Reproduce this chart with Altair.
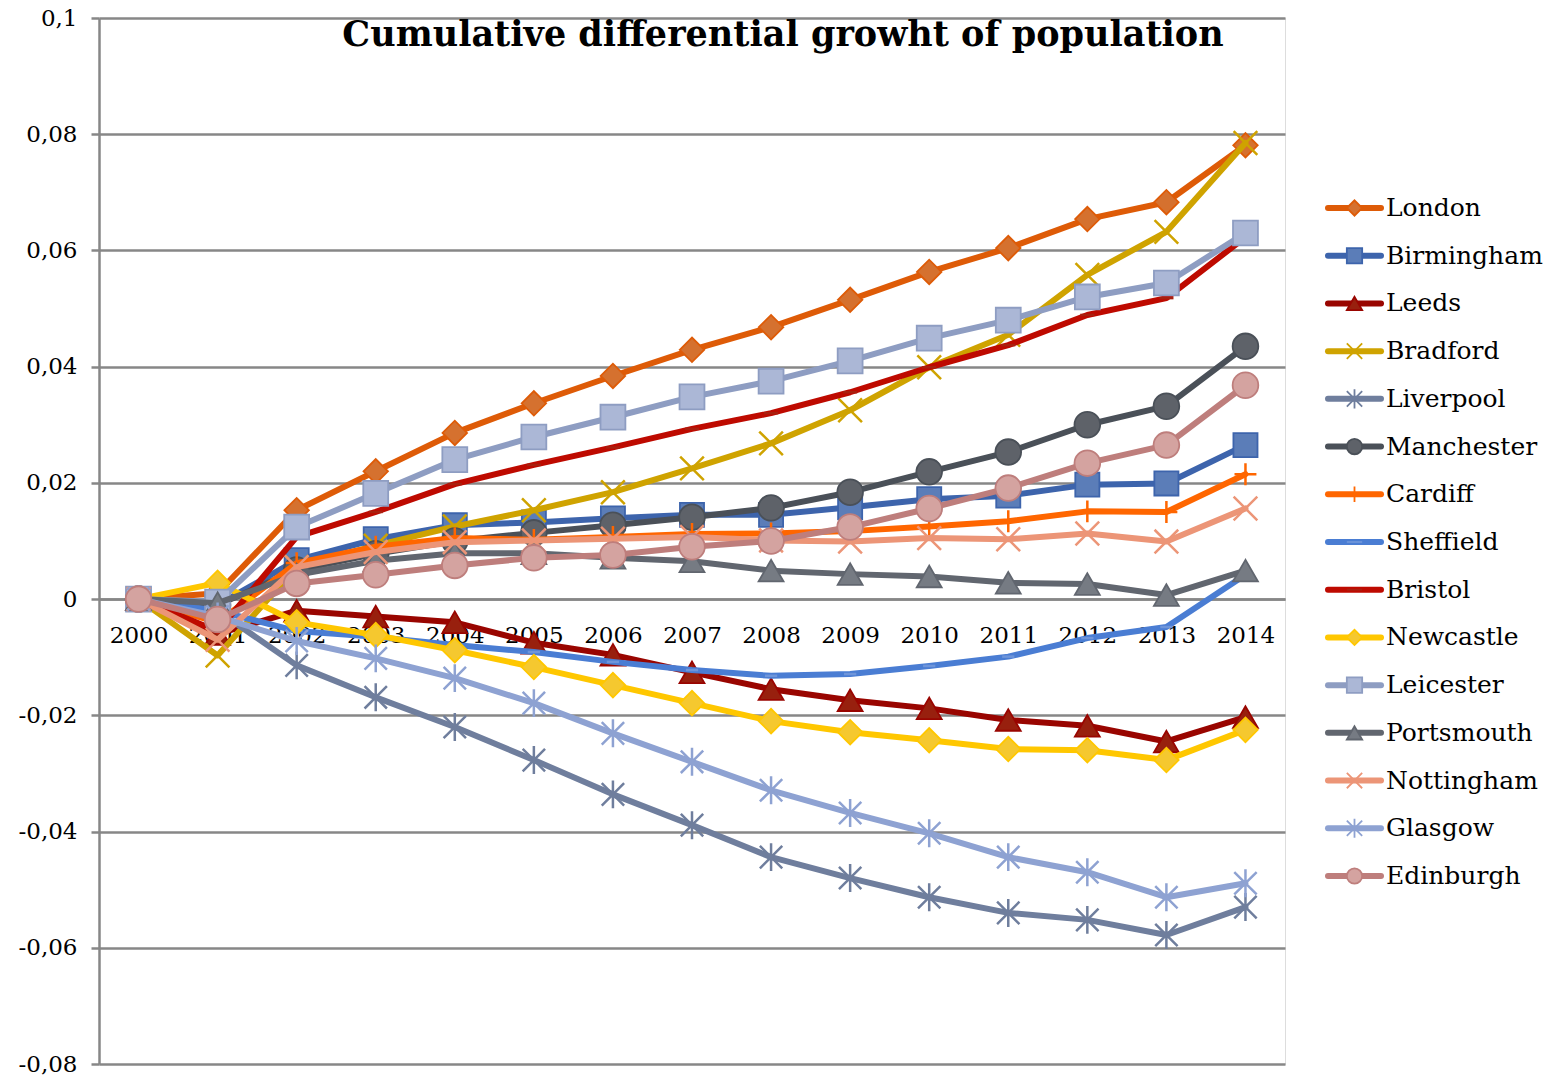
import altair as alt
import pandas as pd

# Cumulative differential growth of population by city, 2000-2014
years = list(range(2000, 2015))

london     = [0, 0.0010, 0.0153, 0.0220, 0.0286, 0.0337, 0.0384, 0.0429, 0.0468, 0.0515, 0.0563, 0.0604, 0.0654, 0.0683, 0.0781]
birmingham = [0, -0.0010, 0.0067, 0.0103, 0.0127, 0.0132, 0.0139, 0.0145, 0.0145, 0.0158, 0.0172, 0.0178, 0.0197, 0.0199, 0.0265]
leeds      = [0, -0.0060, -0.0020, -0.0030, -0.0040, -0.0075, -0.0096, -0.0126, -0.0155, -0.0174, -0.0188, -0.0208, -0.0218, -0.0245, -0.0203]
bradford   = [0, -0.0097, 0.0055, 0.0092, 0.0125, 0.0153, 0.0184, 0.0225, 0.0268, 0.0325, 0.0399, 0.0455, 0.0558, 0.0632, 0.0785]
liverpool  = [0, -0.0020, -0.0114, -0.0169, -0.0220, -0.0277, -0.0336, -0.0389, -0.0444, -0.0480, -0.0513, -0.0540, -0.0552, -0.0578, -0.0530]
manchester = [0, -0.0010, 0.0050, 0.0078, 0.0100, 0.0114, 0.0127, 0.0141, 0.0157, 0.0184, 0.0219, 0.0253, 0.0300, 0.0332, 0.0435]
cardiff    = [0, -0.0040, 0.0062, 0.0090, 0.0105, 0.0102, 0.0107, 0.0112, 0.0113, 0.0117, 0.0125, 0.0134, 0.0151, 0.0150, 0.0215]
sheffield  = [0, -0.0020, -0.0055, -0.0065, -0.0079, -0.0091, -0.0108, -0.0122, -0.0132, -0.0129, -0.0115, -0.0099, -0.0067, -0.0048, 0.0042]
bristol    = [0, -0.0055, 0.0107, 0.0150, 0.0198, 0.0231, 0.0261, 0.0293, 0.0320, 0.0356, 0.0399, 0.0437, 0.0489, 0.0518, 0.0623]
newcastle  = [0, 0.0028, -0.0040, -0.0062, -0.0088, -0.0117, -0.0148, -0.0179, -0.0210, -0.0229, -0.0243, -0.0258, -0.0260, -0.0277, -0.0225]
leicester  = [0, -0.0005, 0.0124, 0.0182, 0.0240, 0.0279, 0.0313, 0.0348, 0.0375, 0.0410, 0.0449, 0.0480, 0.0520, 0.0544, 0.0630]
portsmouth = [0, -0.0007, 0.0042, 0.0066, 0.0079, 0.0079, 0.0071, 0.0065, 0.0049, 0.0043, 0.0039, 0.0028, 0.0026, 0.0007, 0.0049]
nottingham = [0, -0.0070, 0.0055, 0.0081, 0.0098, 0.0101, 0.0104, 0.0107, 0.0101, 0.0099, 0.0105, 0.0103, 0.0113, 0.0099, 0.0156]
glasgow    = [0, -0.0030, -0.0072, -0.0102, -0.0136, -0.0179, -0.0231, -0.0280, -0.0329, -0.0368, -0.0403, -0.0444, -0.0470, -0.0513, -0.0489]
edinburgh  = [0, -0.0035, 0.0027, 0.0042, 0.0058, 0.0071, 0.0076, 0.0090, 0.0100, 0.0124, 0.0156, 0.0191, 0.0234, 0.0265, 0.0368]

cities = ["London", "Birmingham", "Leeds", "Bradford", "Liverpool", "Manchester",
          "Cardiff", "Sheffield", "Bristol", "Newcastle", "Leicester", "Portsmouth",
          "Nottingham", "Glasgow", "Edinburgh"]
values = [london, birmingham, leeds, bradford, liverpool, manchester, cardiff,
          sheffield, bristol, newcastle, leicester, portsmouth, nottingham,
          glasgow, edinburgh]

y_ticks = [-0.08, -0.06, -0.04, -0.02, 0, 0.02, 0.04, 0.06, 0.08, 0.1]
x_ticks = [y + h for y in years for h in (0.0, 0.5)]

# marker glyphs drawn as open strokes
X_PATH = "M-1,-1L1,1M-1,1L1,-1"
STAR_PATH = "M-1,-1L1,1M-1,1L1,-1M0,-1.25L0,1.25"
PLUS_PATH = "M0,-1L0,1M-1,0L1,0"
DASH_PATH = "M-1,0L1,0"

# line colour, marker shape, marker fill, marker outline, marker size (plot)
styles = {
    "London":     ("#DE5B07", "diamond",     "#D5712F", "#DE5B07", 600),
    "Birmingham": ("#3D64AC", "square",      "#5B7DB8", "#3D64AC", 580),
    "Leeds":      ("#990500", "triangle-up", "#98200E", "#990500", 620),
    "Bradford":   ("#CFA300", X_PATH,        None,      "#CFA300", 560),
    "Liverpool":  ("#6F7E9D", STAR_PATH,     None,      "#6F7E9D", 500),
    "Manchester": ("#4A5058", "circle",      "#5E6269", "#4A5058", 660),
    "Cardiff":    ("#FF6600", PLUS_PATH,     None,      "#FF6600", 480),
    "Sheffield":  ("#4A7DD3", DASH_PATH,     None,      "#6E95DA", 150),
    "Bristol":    ("#BE0A00", DASH_PATH,     None,      "#A8200F", 200),
    "Newcastle":  ("#FFC700", "diamond",     "#F5C82F", "#FFC700", 600),
    "Leicester":  ("#8E9DC2", "square",      "#ABB7D6", "#8E9DC2", 620),
    "Portsmouth": ("#61666F", "triangle-up", "#767B83", "#61666F", 620),
    "Nottingham": ("#EC9577", X_PATH,        None,      "#EC9577", 560),
    "Glasgow":    ("#8EA2D2", STAR_PATH,     None,      "#8EA2D2", 500),
    "Edinburgh":  ("#BE7E7C", "circle",      "#D4A3A0", "#BE7E7C", 660),
}

FONT = "DejaVu Serif"
GRID = "#878787"
W, H = 1186, 1046
zero_offset = -H * (0 - y_ticks[0]) / (y_ticks[-1] - y_ticks[0])

df = pd.DataFrame(
    [{"year": yr, "city": c, "value": v}
     for c, vals in zip(cities, values) for yr, v in zip(years, vals)]
)

x_enc = alt.X(
    "year:Q",
    scale=alt.Scale(domain=[1999.5, 2014.5], nice=False, zero=False),
    axis=alt.Axis(
        values=x_ticks, format="d", title=None,
        labelExpr="datum.value % 1 ? '' : datum.label",
        labelOverlap=False, labelFlush=False, labelBound=False,
        labelFont=FONT, labelFontSize=23, labelColor="black", labelPadding=17,
        tickSize=8, tickWidth=2.5, tickColor=GRID,
        tickOpacity={"condition": {"test": "datum.value % 1 == 0", "value": 0}, "value": 1},
        domainColor=GRID, domainWidth=2.5, grid=False,
        offset=zero_offset,
    ),
)
y_enc = alt.Y(
    "value:Q",
    scale=alt.Scale(domain=[y_ticks[0], y_ticks[-1]], nice=False, zero=False),
    axis=alt.Axis(
        values=y_ticks, title=None,
        labelExpr="datum.value == 0 ? '0' : (datum.value < 0 ? '-' : '') + "
                  "replace(format(abs(datum.value), '.2~f'), '.', ',')",
        labelFont=FONT, labelFontSize=23, labelColor="black", labelPadding=14,
        tickSize=8, tickWidth=2.5, tickColor=GRID,
        domainColor=GRID, domainWidth=2.5,
        grid=True, gridColor=GRID, gridWidth=2.5,
    ),
)

series_layers = []
for c in cities:
    line_c, shape, fill, stroke, size = styles[c]
    base = alt.Chart().transform_filter(alt.datum.city == c)
    series_layers.append(
        base.mark_line(color=line_c, strokeWidth=6, strokeCap="round", strokeJoin="round")
        .encode(x=x_enc, y=y_enc)
    )
    if fill is None:
        pt = base.mark_point(shape=shape, size=size, filled=False, stroke=stroke,
                             strokeWidth=2.5, opacity=1)
    else:
        pt = base.mark_point(shape=shape, size=size, filled=True, fill=fill,
                             stroke=stroke, strokeWidth=1.8, opacity=1)
    series_layers.append(pt.encode(x=x_enc, y=y_enc))

main = alt.layer(*series_layers, data=df)

# legend: one row per city, line sample with its marker and the name
legend_df = pd.DataFrame({"city": cities})
leg_y = alt.Y("city:N", sort=cities,
              scale=alt.Scale(type="point", domain=cities, range=[190, 858], padding=0),
              axis=None)
line_colors = [styles[c][0] for c in cities]
shapes = [styles[c][1] for c in cities]
fills = [styles[c][2] or "transparent" for c in cities]
strokes = [styles[c][3] for c in cities]
leg_sizes = [min(styles[c][4], 560) * 0.42 for c in cities]

leg_line = alt.Chart().mark_rule(strokeWidth=6, strokeCap="round").encode(
    x=alt.value(W + 43), x2=alt.value(W + 96), y=leg_y,
    color=alt.Color("city:N", scale=alt.Scale(domain=cities, range=line_colors), legend=None),
)
leg_pt = alt.Chart().mark_point(opacity=1, strokeWidth=1.8).encode(
    x=alt.value(W + 69.5), y=leg_y,
    shape=alt.Shape("city:N", scale=alt.Scale(domain=cities, range=shapes), legend=None),
    fill=alt.Fill("city:N", scale=alt.Scale(domain=cities, range=fills), legend=None),
    stroke=alt.Stroke("city:N", scale=alt.Scale(domain=cities, range=strokes), legend=None),
    size=alt.Size("city:N", scale=alt.Scale(domain=cities, range=leg_sizes), legend=None),
)
leg_text = alt.Chart().mark_text(align="left", baseline="middle", font=FONT,
                                 fontSize=25, color="black").encode(
    x=alt.value(W + 101), y=leg_y, text="city:N",
)
legend = alt.layer(leg_line, leg_pt, leg_text, data=legend_df)

chart = (
    alt.layer(main, legend)
    .resolve_scale(y="independent")
    .properties(
        width=W, height=H,
        title=alt.TitleParams(
            "Cumulative differential growht of population",
            font=FONT, fontSize=35, fontWeight="bold", color="black",
            anchor="middle", dx=91, offset=-46,
        ),
        padding={"left": 18, "top": 7, "right": 0, "bottom": 0},
    )
    .configure_view(strokeWidth=0)
    .configure(background="white")
)

chart.save("out.html", embed_options={"renderer": "svg", "actions": False})
